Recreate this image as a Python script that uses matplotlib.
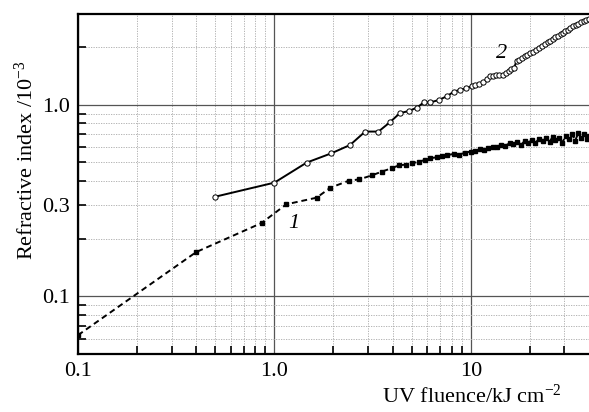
import matplotlib
matplotlib.use('Agg')
import matplotlib.pyplot as plt
from matplotlib.ticker import FixedLocator, FuncFormatter, NullFormatter

plt.rcParams['font.family'] = ['Liberation Serif', 'DejaVu Serif']
plt.rcParams['mathtext.fontset'] = 'custom'
plt.rcParams['mathtext.rm'] = 'Liberation Serif'
plt.rcParams['mathtext.it'] = 'Liberation Serif:italic'

# curve 1 (dashed, filled squares)
x1 = [0.1, 0.4, 0.86, 1.15, 1.64, 1.93, 2.39, 2.71, 3.14, 3.53, 3.95, 4.31, 4.66,
      5.05, 5.45, 5.85, 6.23, 6.7, 7.14, 7.6, 8.18, 8.7, 9.3, 10.0, 10.5, 11.1,
      11.7, 12.3, 13.0, 13.6, 14.2, 14.9, 15.8, 16.5, 17.2, 18.0, 18.8, 19.6,
      20.5, 21.3, 22.2, 23.3, 24.2, 25.2, 26.1, 27.0, 28.2, 29.3, 30.4, 31.5,
      32.8, 34.0, 35.3, 36.5, 37.8, 39.2, 40.0]
y1 = [0.0625, 0.17, 0.241, 0.302, 0.327, 0.369, 0.401, 0.408, 0.428, 0.448, 0.466,
      0.483, 0.487, 0.495, 0.505, 0.515, 0.526, 0.532, 0.541, 0.546, 0.554, 0.548,
      0.562, 0.570, 0.572, 0.586, 0.582, 0.594, 0.605, 0.600, 0.618, 0.610, 0.630,
      0.622, 0.640, 0.615, 0.648, 0.632, 0.655, 0.628, 0.665, 0.645, 0.672, 0.640,
      0.680, 0.655, 0.670, 0.635, 0.690, 0.660, 0.705, 0.650, 0.712, 0.670, 0.700,
      0.665, 0.690]

# curve 2 (solid, open circles)
x2 = [0.5, 1.0, 1.46, 1.95, 2.43, 2.90, 3.39, 3.88, 4.35, 4.86, 5.33, 5.76, 6.23,
      6.87, 7.57, 8.18, 8.83, 9.5, 10.1, 10.5, 11.0, 11.6, 12.1, 12.5, 13.0, 13.5,
      14.0, 14.6, 15.2, 15.7, 16.1, 16.6, 17.1, 17.6, 18.2, 18.8, 19.4, 20.0, 20.7,
      21.4, 22.2, 23.0, 23.8, 24.6, 25.4, 26.2, 27.0, 27.9, 28.7, 29.4, 30.3, 31.2,
      32.2, 33.2, 34.3, 35.3, 36.4, 37.6, 38.8, 40.0]
y2 = [0.331, 0.392, 0.499, 0.558, 0.617, 0.725, 0.725, 0.812, 0.904, 0.93, 0.968,
      1.03, 1.03, 1.06, 1.11, 1.17, 1.20, 1.22, 1.25, 1.27, 1.28, 1.32, 1.37, 1.41,
      1.42, 1.43, 1.43, 1.44, 1.46, 1.50, 1.54, 1.56, 1.69, 1.71, 1.75, 1.79, 1.82,
      1.86, 1.90, 1.94, 1.99, 2.04, 2.08, 2.12, 2.16, 2.21, 2.25, 2.30, 2.34, 2.37,
      2.42, 2.47, 2.52, 2.57, 2.62, 2.66, 2.70, 2.74, 2.77, 2.80]

xlim = (0.1, 40)
ylim = (0.05, 3.0)

fig = plt.figure(figsize=(5.89, 4.12), dpi=100)
ax = fig.add_axes([0.1324, 0.1415, 0.8676, 0.8255])

ax.plot(x1, y1, color='black', ls=(0, (3, 2)), lw=1.4, marker='s', ms=3.2,
        mfc='black', mec='black', zorder=3)
ax.plot(x2, y2, color='black', ls='-', lw=1.4, marker='o', ms=3.8,
        mfc='white', mec='black', mew=0.7, zorder=4)

ax.set_xscale('log')
ax.set_yscale('log')
ax.set_xlim(*xlim)
ax.set_ylim(*ylim)

# ticks and grid
ax.xaxis.set_major_locator(FixedLocator([0.1, 1, 10]))
ax.xaxis.set_minor_locator(FixedLocator([0.2, 0.3, 0.4, 0.5, 0.6, 0.7, 0.8, 0.9,
                                         2, 3, 4, 5, 6, 7, 8, 9, 20, 30]))
ax.xaxis.set_major_formatter(FuncFormatter(lambda v, p: {0.1: '0.1', 1: '1.0', 10: '10'}.get(round(v, 3), '')))
ax.xaxis.set_minor_formatter(NullFormatter())

ax.yaxis.set_major_locator(FixedLocator([0.1, 1]))
ax.yaxis.set_minor_locator(FixedLocator([0.06, 0.07, 0.08, 0.09, 0.2, 0.3, 0.4, 0.5,
                                         0.6, 0.7, 0.8, 0.9, 2, 3]))
ax.yaxis.set_major_formatter(FuncFormatter(lambda v, p: '0.1' if v < 0.5 else '1.0'))
ax.yaxis.set_minor_formatter(FuncFormatter(lambda v, p: '0.3' if abs(v - 0.3) < 1e-6 else ''))

ax.grid(which='major', color='#555555', lw=0.9, ls='-')
ax.grid(which='minor', color='#a8a8a8', lw=0.6, ls=(0, (1.5, 1.5)))

ax.tick_params(which='both', direction='in', length=6, width=1.2, labelsize=16,
               pad=6, top=False, right=False)
ax.tick_params(axis='x', which='major', length=0)
ax.tick_params(axis='y', which='major', length=0)

for s in ['left', 'bottom', 'top']:
    ax.spines[s].set_linewidth(1.6)
ax.spines['right'].set_visible(False)

ax.set_ylabel('Refractive index /10$^{-3}$', fontsize=16)
ax.yaxis.set_label_coords(-0.078, 0.57)
ax.set_xlabel('UV fluence/kJ cm$^{-2}$', fontsize=16, ha='right')
ax.xaxis.set_label_coords(0.947, -0.09)

ax.text(1.25, 0.24, '1', fontsize=16, fontstyle='italic', ha='center', va='center')
ax.text(14.4, 1.86, '2', fontsize=16, fontstyle='italic', ha='center', va='center')

fig.savefig('out.png', dpi=100)
